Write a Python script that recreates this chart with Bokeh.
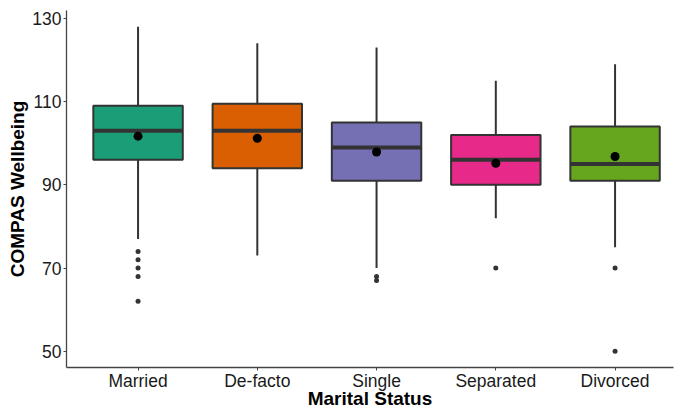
from bokeh.plotting import figure
from bokeh.models import Range1d, FixedTicker
from bokeh.embed import file_html
from bokeh.resources import INLINE

categories = ["Married", "De-facto", "Single", "Separated", "Divorced"]
q1 = [96, 94, 91, 90, 91]
median = [103, 103, 99, 96, 95]
q3 = [109, 109.5, 105, 102, 104]
lower_whisker = [77, 73, 70, 82, 75]
upper_whisker = [128, 124, 123, 115, 119]
means = [101.7, 101.2, 97.9, 95.2, 96.8]
outlier_groups = ["Married"] * 5 + ["Single"] * 2 + ["Separated"] + ["Divorced"] * 2
outlier_values = [74, 72, 70, 68, 62, 68, 67, 70, 70, 50]
colors = ["#1B9E77", "#D95F02", "#7570B3", "#E7298A", "#66A61E"]
y_ticks = [50, 70, 90, 110, 130]

FONT = "Liberation Sans"
x = list(range(1, len(categories) + 1))
box_w = 0.75
ox = [categories.index(g) + 1 for g in outlier_groups]

p = figure(width=674, height=411, output_backend="svg", toolbar_location=None,
           x_range=Range1d(0.4, 5.49), y_range=Range1d(46.1, 131.9),
           min_border_left=66, min_border_right=1, min_border_top=10, min_border_bottom=41)

p.segment(x0=x, y0=q3, x1=x, y1=upper_whisker, line_color="#333333", line_width=2)
p.segment(x0=x, y0=q1, x1=x, y1=lower_whisker, line_color="#333333", line_width=2)
p.vbar(x=x, width=box_w, bottom=q1, top=q3, fill_color=colors,
       line_color="#333333", line_width=2)
p.segment(x0=[v - box_w / 2 for v in x], y0=median, x1=[v + box_w / 2 for v in x], y1=median,
          line_color="#333333", line_width=4)
p.scatter(x=ox, y=outlier_values, size=5, fill_color="#333333", line_color=None)
p.scatter(x=x, y=means, size=9, fill_color="black", line_color=None)

p.xgrid.grid_line_color = None
p.ygrid.grid_line_color = None
p.outline_line_color = None
p.background_fill_color = "white"
p.border_fill_color = "white"

p.xaxis.ticker = FixedTicker(ticks=x)
p.xaxis.major_label_overrides = {i: c for i, c in zip(x, categories)}
p.yaxis.ticker = FixedTicker(ticks=y_ticks)

for ax in (p.xaxis, p.yaxis):
    ax.axis_line_color = "#444444"
    ax.axis_line_width = 1.3
    ax.major_tick_line_color = "#444444"
    ax.major_tick_in = 0
    ax.major_tick_out = 3
    ax.minor_tick_line_color = None
    ax.major_label_text_font = FONT
    ax.major_label_text_font_size = "17.5px"
    ax.major_label_text_color = "#1a1a1a"
    ax.axis_label_text_font = FONT
    ax.axis_label_text_font_size = "19px"
    ax.axis_label_text_font_style = "bold"
    ax.axis_label_text_color = "black"
    ax.major_label_standoff = 2

p.xaxis.major_label_standoff = 0
p.xaxis.axis_label = "Marital Status"
p.yaxis.axis_label = "COMPAS Wellbeing"
p.xaxis.axis_label_standoff = -6
p.yaxis.axis_label_standoff = 1

open("out.html", "w").write(file_html(p, INLINE))
